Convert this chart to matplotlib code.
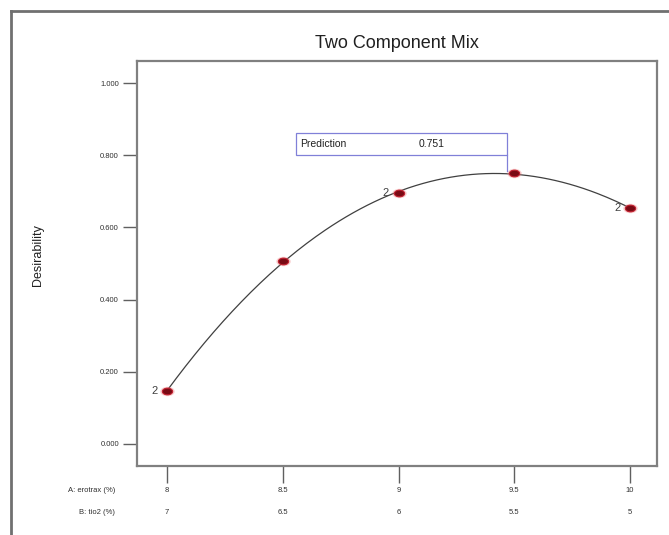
import numpy as np
import matplotlib
matplotlib.use("Agg")
import matplotlib.pyplot as plt
from matplotlib.path import Path
from matplotlib.markers import MarkerStyle
from matplotlib.patches import Rectangle
from matplotlib.lines import Line2D
import matplotlib.transforms as mtransforms

plt.rcParams['font.family'] = ['Liberation Sans', 'DejaVu Sans']

# Data
a_levels = [8, 8.5, 9, 9.5, 10]
a_labels = ["8", "8.5", "9", "9.5", "10"]
b_labels = ["7", "6.5", "6", "5.5", "5"]
desirability = [0.147, 0.506, 0.694, 0.751, 0.653]
replicates = ["2", "", "2", "", "2"]
y_ticks = [0.0, 0.2, 0.4, 0.6, 0.8, 1.0]
prediction_x = 9.5
prediction_value = 0.751
title = "Two Component Mix"
ylabel = "Desirability"
row_a = "A: erotrax (%)"
row_b = "B: tio2 (%)"

W, H = 669, 535
fig = plt.figure(figsize=(W / 100, H / 100), dpi=100)
ax = fig.add_axes([137 / W, 1 - 466 / H, 520 / W, 405 / H])

# fitted curve
coef = np.polyfit(a_levels, desirability, 3)
xs = np.linspace(a_levels[0], a_levels[-1], 200)
ax.plot(xs, np.polyval(coef, xs), color="#404040", lw=0.9, zorder=2)

# ellipse markers
circ = Path.unit_circle()
ell = Path(circ.vertices * np.array([1.0, 0.65]), circ.codes)
ax.scatter(a_levels, desirability, marker=MarkerStyle(ell), s=110,
           color="#f08080", alpha=0.35, lw=0, zorder=3)
ax.scatter(a_levels, desirability, marker=MarkerStyle(ell), s=55,
           facecolor="#7a0a14", edgecolor="#c02030", lw=0.8, zorder=4)
for x, y, r in zip(a_levels, desirability, replicates):
    if r:
        ax.annotate(r, (x, y), xytext=(-7, 0), textcoords="offset points",
                    ha="right", va="center", fontsize=8, color="#404040")

# prediction box
xl = 8.555
xr = prediction_x - 0.03
ax.add_patch(Rectangle((xl, 0.800), xr - xl, 0.061, fill=False,
                       edgecolor="#8080d8", lw=0.9, zorder=5))
ax.plot([xr, xr], [0.800, prediction_value + 0.005], color="#8080d8", lw=0.9, zorder=3)
ax.text(xl + 0.02, 0.8305, "Prediction", fontsize=7.5, va="center", ha="left", color="#202020")
ax.text(9.085, 0.8305, f"{prediction_value:.3f}", fontsize=7.5, va="center", ha="left", color="#202020")

ax.set_xlim(7.87, 10.117)
ax.set_ylim(-0.061, 1.061)
ax.set_yticks(y_ticks)
ax.set_yticklabels([f"{v:.3f}" for v in y_ticks], fontsize=5.5, color="#303030")
ax.set_xticks(a_levels)
ax.set_xticklabels([])
ax.tick_params(axis="y", length=10, width=1, color="#606060", pad=3)
ax.tick_params(axis="x", length=12, width=1, color="#606060")
for s in ax.spines.values():
    s.set_color("#808080")
    s.set_linewidth(1.6)

trans = mtransforms.blended_transform_factory(ax.transData, fig.transFigure)
for x, la, lb in zip(a_levels, a_labels, b_labels):
    ax.text(x, 1 - 490 / H, la, transform=trans, ha="center", va="center", fontsize=5.5, color="#303030")
    ax.text(x, 1 - 513 / H, lb, transform=trans, ha="center", va="center", fontsize=5.5, color="#303030")
fig.text(115 / W, 1 - 490 / H, row_a, ha="right", va="center", fontsize=5.5, color="#303030")
fig.text(115 / W, 1 - 513 / H, row_b, ha="right", va="center", fontsize=5.5, color="#303030")

fig.text(397 / W, 1 - 43 / H, title, ha="center", va="center", fontsize=13, color="#202020")
fig.text(38 / W, 1 - 255 / H, ylabel, ha="center", va="center", rotation=90, fontsize=9, color="#202020")

# outer frame
fig.add_artist(Line2D([11 / W, 1.0], [1 - 11 / H, 1 - 11 / H], transform=fig.transFigure, color="#707070", lw=2))
fig.add_artist(Line2D([11 / W, 11 / W], [0, 1 - 11 / H], transform=fig.transFigure, color="#707070", lw=2))

fig.savefig("out.png", dpi=100, facecolor="white")
